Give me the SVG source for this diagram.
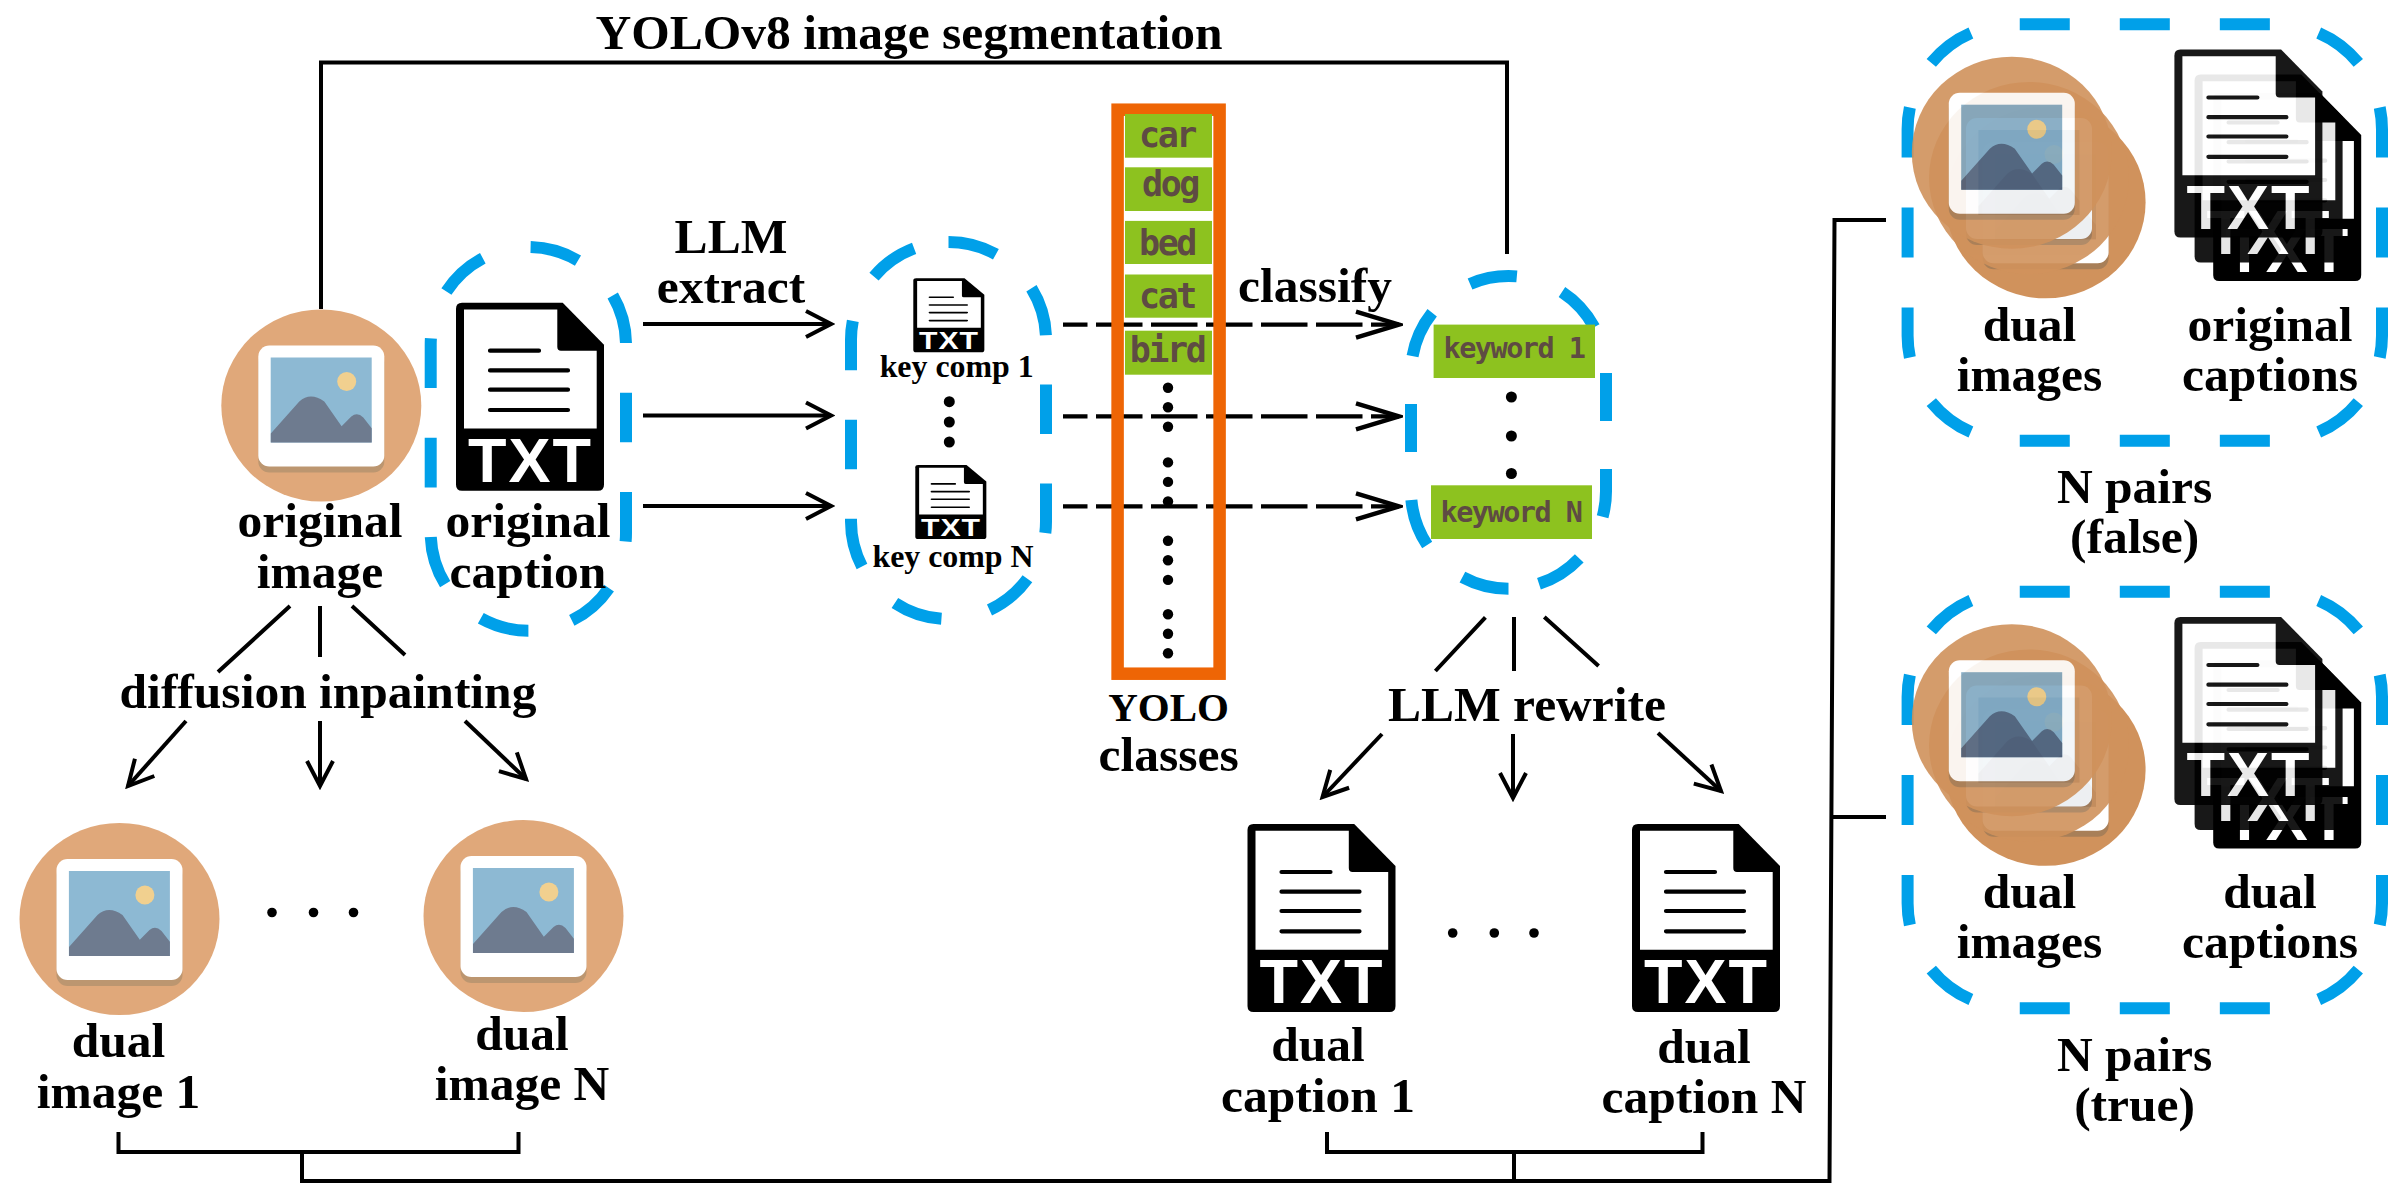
<svg xmlns="http://www.w3.org/2000/svg" width="2389" height="1201" viewBox="0 0 2389 1201">
<style>
text{font-family:"Liberation Serif","Times New Roman",serif;font-weight:bold;font-size:49.5px;fill:#000;text-anchor:middle}
.small{font-size:31.9px}
.tag{font-family:"DejaVu Sans Mono",monospace;font-size:35px;letter-spacing:-2.4px;fill:#5E4B43}
.kw{font-family:"DejaVu Sans Mono",monospace;font-size:28.5px;letter-spacing:-1.5px;fill:#5E4B43}
.txt{font-family:"Liberation Sans",Arial,sans-serif;font-size:63px;letter-spacing:2px;fill:#fff}
.green{fill:#8DC21F}
.pill{fill:none;stroke:#00A0E9;stroke-width:12}
.ln{fill:none;stroke:#000;stroke-width:4}
.dashln{fill:none;stroke:#000;stroke-width:4.2;stroke-dasharray:46.5 8.5;stroke-dashoffset:22}
</style>
<defs>
<marker id="open" markerUnits="userSpaceOnUse" markerWidth="32" markerHeight="34" refX="28" refY="17" orient="auto" viewBox="0 0 32 34"><path d="M3,4 L28,17 L3,30" fill="none" stroke="#000" stroke-width="4"/></marker>
<marker id="openL" markerUnits="userSpaceOnUse" markerWidth="50" markerHeight="34" refX="46" refY="17" orient="auto" viewBox="0 0 50 34"><path d="M3,4 L46,17 L3,30" fill="none" stroke="#000" stroke-width="4.5"/></marker>
<symbol id="photo" overflow="visible">
<ellipse cx="0" cy="0" rx="100" ry="96" fill="#E0A87A"/>
<rect x="-63" y="-54" width="126" height="121" rx="11" fill="#BC9670"/>
<rect x="-63" y="-60" width="126" height="121" rx="11" fill="#fff"/>
<rect x="-50.6" y="-48" width="101" height="85" fill="#8DB9D3"/>
<circle cx="25.4" cy="-24" r="9.5" fill="#F1D08F"/>
<path d="M-50.5,28 L-22,-4 Q-11,-14 3,-4 L20.3,20.7 L30,11 Q36,6 42,12 L50.4,22.7 V37 H-50.5Z" fill="#6E7B8F"/>
</symbol>
<symbol id="photoDark" overflow="visible">
<ellipse cx="0" cy="0" rx="100" ry="96" fill="#D0925C"/>
<rect x="-63" y="-54" width="126" height="121" rx="11" fill="#A87F58"/>
<rect x="-63" y="-60" width="126" height="121" rx="11" fill="#fff"/>
<rect x="-50.6" y="-48" width="101" height="85" fill="#7FA8C2"/>
<circle cx="25" cy="-23.5" r="9.5" fill="#E9C57D"/>
<path d="M-50.5,28 L-22,-4 Q-11,-14 3,-4 L20.3,20.7 L30,11 Q36,6 42,12 L50.4,22.7 V37 H-50.5Z" fill="#4F6079"/>
</symbol>
<symbol id="doc" overflow="visible">
<path d="M6,0 H106.7 L148,42 V182 Q148,188 142,188 H6 Q0,188 0,182 V6 Q0,0 6,0Z" fill="#000"/>
<path d="M8,6.7 H101.3 V44 Q101.3,48 105,48 H140.7 V125.7 H8Z" fill="#fff"/>
<path d="M34,48 H83 M34,67.7 H112 M34,87 H112 M34,107.3 H112" stroke="#000" stroke-width="4.2" stroke-linecap="round" fill="none"/>
<text class="txt" x="74.5" y="179">TXT</text>
</symbol>
<g id="stackImages">
<use href="#photoDark" x="2045.6" y="202.3"/>
<use href="#photoDark" x="2029" y="178" opacity=".9"/>
<use href="#photoDark" x="2011.8" y="152.7" opacity=".9"/>
</g>
<g id="stackDocs">
<use href="#doc" x="2213.2" y="93"/>
<use href="#doc" x="2194.6" y="74.5" opacity=".9"/>
<use href="#doc" x="2174.4" y="49.5" opacity=".9"/>
</g>
<path id="bigPill" d="M2144.8,24.3 H2277 A105,105 0 0 1 2382,129.3 V335.7 A105,105 0 0 1 2277,440.7 H2012.6 A105,105 0 0 1 1907.6,335.7 V129.3 A105,105 0 0 1 2012.6,24.3Z" class="pill" pathLength="1600" stroke-dasharray="50 50" stroke-dashoffset="25"/>
</defs>

<g id="connectors">
<path class="ln" d="M321,309 V62.5 H1507 V254"/>
<path class="ln" d="M643,324 H831" marker-end="url(#open)"/>
<path class="ln" d="M643,415.5 H831" marker-end="url(#open)"/>
<path class="ln" d="M643,506 H831" marker-end="url(#open)"/>
<path class="dashln" d="M1063,324.6 H1399" marker-end="url(#openL)"/>
<path class="dashln" d="M1063,416.4 H1399" marker-end="url(#openL)"/>
<path class="dashln" d="M1063,506.4 H1399" marker-end="url(#openL)"/>
<path class="ln" d="M290,606 L218,672 M320,606 V657 M352,606 L405,655"/>
<path class="ln" d="M186,721 L128,786" marker-end="url(#open)"/>
<path class="ln" d="M320,721 V786" marker-end="url(#open)"/>
<path class="ln" d="M465,721 L526,779" marker-end="url(#open)"/>
<path class="ln" d="M1485.4,617.4 L1435.4,671 M1514,617 V671 M1544.3,617 L1598.6,666"/>
<path class="ln" d="M1382,734 L1322.5,797" marker-end="url(#open)"/>
<path class="ln" d="M1513,734 V798" marker-end="url(#open)"/>
<path class="ln" d="M1658,733 L1721,791" marker-end="url(#open)"/>
<path class="ln" d="M118.5,1132 V1152 H518.5 V1132 M1327,1132 V1152 H1702.5 V1132"/>
<path class="ln" d="M302,1152 V1181 H1829.5 L1834.5,220 H1886 M1832,817 H1886 M1514,1152 V1181"/>
</g>

<g id="original-image"><use href="#photo" x="321.3" y="405.5"/><text x="320" y="537">original</text><text x="320" y="588">image</text></g>
<g id="original-caption">
<path class="pill" stroke-dasharray="49.7 49.7" d="M528.4,630.7 A97.7,97.7 0 0 1 430.7,533 V344.7 A97.7,97.7 0 0 1 528.4,247 A97.7,97.7 0 0 1 626,344.7 V533 A97.7,97.7 0 0 1 528.4,630.7Z"/>
<use href="#doc" x="456" y="302.7"/><text x="528" y="537">original</text><text x="528" y="588">caption</text></g>

<g id="key-components">
<path class="pill" stroke-dasharray="49.5 49.5" d="M948.5,242 A97.5,97.5 0 0 1 1046,339.5 V521.5 A97.5,97.5 0 0 1 948.5,619 A97.5,97.5 0 0 1 851,521.5 V339.5 A97.5,97.5 0 0 1 948.5,242Z"/>
<use href="#doc" transform="translate(913.3,278.3) scale(.48,.394)"/>
<text class="small" x="956.7" y="377.3">key comp 1</text>
<circle cx="949.3" cy="401.7" r="5.5"/><circle cx="949.3" cy="422" r="5.5"/><circle cx="949.3" cy="442" r="5.5"/>
<use href="#doc" transform="translate(915.3,465) scale(.48,.394)"/>
<text class="small" x="953" y="566.7">key comp N</text>
</g>

<g id="yolo-classes">
<rect x="1117.6" y="109.7" width="102" height="564" fill="none" stroke="#EE6505" stroke-width="12.5"/>
<rect class="green" x="1125" y="114" width="87" height="43.7"/><text class="tag" x="1167" y="147.4">car</text>
<rect class="green" x="1125" y="167.3" width="87" height="43.7"/><text class="tag" x="1170" y="196.4">dog</text>
<rect class="green" x="1125" y="220.9" width="87" height="43.1"/><text class="tag" x="1167" y="255.3">bed</text>
<rect class="green" x="1125" y="274.5" width="87" height="43.2"/><text class="tag" x="1167" y="308">cat</text>
<rect class="green" x="1125" y="330.7" width="87" height="44"/><text class="tag" x="1167" y="361.7">bird</text>
<g>
<circle cx="1168" cy="387.7" r="5.2"/><circle cx="1168" cy="407.3" r="5.2"/><circle cx="1168" cy="426.8" r="5.2"/>
<circle cx="1168" cy="462.4" r="5.2"/><circle cx="1168" cy="481.9" r="5.2"/><circle cx="1168" cy="501.4" r="5.2"/>
<circle cx="1168" cy="540.8" r="5.2"/><circle cx="1168" cy="560.3" r="5.2"/><circle cx="1168" cy="579.9" r="5.2"/>
<circle cx="1168" cy="614.3" r="5.2"/><circle cx="1168" cy="633.8" r="5.2"/><circle cx="1168" cy="653.3" r="5.2"/>
</g>
<text x="1168.6" y="721" style="font-size:41px">YOLO</text><text x="1168.6" y="771">classes</text>
</g>

<g id="keywords">
<path class="pill" stroke-dasharray="48 48" d="M1508.5,588.7 A97.5,97.5 0 0 1 1411,491.2 V373.5 A97.5,97.5 0 0 1 1508.5,276 A97.5,97.5 0 0 1 1606,373.5 V491.2 A97.5,97.5 0 0 1 1508.5,588.7Z"/>
<rect class="green" x="1433.6" y="324.6" width="161.4" height="53.4"/><text class="kw" x="1514" y="358">keyword 1</text>
<circle cx="1511.4" cy="397" r="5.5"/><circle cx="1511.4" cy="436" r="5.5"/><circle cx="1511.4" cy="473.5" r="5.5"/>
<rect class="green" x="1431" y="485.3" width="161" height="53.7"/><text class="kw" x="1511" y="521.7">keyword N</text>
</g>

<g id="dual-image-1"><use href="#photo" x="119.5" y="919"/><text x="118.5" y="1057">dual</text><text x="118.5" y="1107.5">image 1</text></g>
<g id="dots-left"><circle cx="272" cy="912.5" r="4.8"/><circle cx="313.5" cy="912.5" r="4.8"/><circle cx="353.5" cy="912.5" r="4.8"/></g>
<g id="dual-image-n"><use href="#photo" x="523.5" y="916"/><text x="522" y="1050">dual</text><text x="522" y="1100">image N</text></g>

<g id="dual-caption-1"><use href="#doc" x="1247.5" y="824"/><text x="1318" y="1061">dual</text><text x="1318" y="1112">caption 1</text></g>
<g id="dots-right"><circle cx="1452.7" cy="933" r="4.8"/><circle cx="1494.3" cy="933" r="4.8"/><circle cx="1534" cy="933" r="4.8"/></g>
<g id="dual-caption-n"><use href="#doc" x="1632" y="824"/><text x="1704" y="1062.5">dual</text><text x="1704" y="1113">caption N</text></g>

<g id="pairs-false">
<use href="#bigPill"/><use href="#stackImages"/><use href="#stackDocs"/>
<text x="2029.5" y="341">dual</text><text x="2029.5" y="391">images</text>
<text x="2270" y="341">original</text><text x="2270" y="391">captions</text>
<text x="2134.6" y="503">N pairs</text><text x="2134.6" y="553">(false)</text>
</g>
<g id="pairs-true">
<g transform="translate(0,567.5)"><use href="#bigPill"/><use href="#stackImages"/><use href="#stackDocs"/></g>
<text x="2029.5" y="908">dual</text><text x="2029.5" y="958">images</text>
<text x="2270" y="908">dual</text><text x="2270" y="958">captions</text>
<text x="2134.6" y="1071">N pairs</text><text x="2134.6" y="1121">(true)</text>
</g>
<text x="909" y="49">YOLOv8 image segmentation</text>
<text x="731" y="253">LLM</text><text x="731" y="303">extract</text>
<text x="1315" y="302.4">classify</text>
<text x="328" y="708">diffusion inpainting</text>
<text x="1527" y="721">LLM rewrite</text>
</svg>
